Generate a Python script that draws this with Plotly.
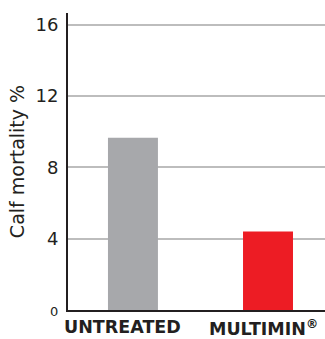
import plotly.graph_objects as go

categories = ["UNTREATED", "MULTIMIN<sup>®</sup>"]
values = [9.65, 4.4]
colors = ["#A7A8AB", "#ED1C24"]
y_ticks = [0, 4, 8, 12, 16]
y_ticktext = ["<span style='font-size:13px'>0</span>", "4", "8", "12", "16"]

xpos = list(range(len(categories)))

fig = go.Figure()
fig.add_trace(go.Bar(x=xpos, y=values, marker=dict(color=colors, line=dict(width=0)),
                     width=0.37, hoverinfo="skip"))

for i, c in enumerate(categories):
    fig.add_annotation(x=xpos[i], y=0, xref="x", yref="paper", text="<b>%s</b>" % c,
                       showarrow=False, yanchor="top", yshift=-5,
                       xshift=-10 if i == 0 else -5,
                       font=dict(family="DejaVu Sans", size=17.5, color="#231F20"))

fig.update_layout(
    width=325, height=339,
    margin=dict(l=68, r=0, t=13, b=29),
    plot_bgcolor="white", paper_bgcolor="white",
    showlegend=False,
    font=dict(family="DejaVu Sans", color="#231F20"),
    xaxis=dict(range=[-0.481, 1.422], showticklabels=False, ticks="", showgrid=False,
               zeroline=False, showline=True, linecolor="#231F20", linewidth=2,
               fixedrange=True),
    yaxis=dict(range=[0, 16.65], tickvals=y_ticks, ticktext=y_ticktext, ticks="",
               showgrid=True, gridcolor="#BDBDBD", gridwidth=1.5, zeroline=False,
               showline=True, linecolor="#231F20", linewidth=2,
               tickfont=dict(family="DejaVu Sans", size=18, color="#231F20"),
               ticklabelstandoff=4,
               title=dict(text="Calf mortality %", standoff=6,
                          font=dict(family="DejaVu Sans", size=19, color="#231F20"))),
)

fig.write_html("out.html")
